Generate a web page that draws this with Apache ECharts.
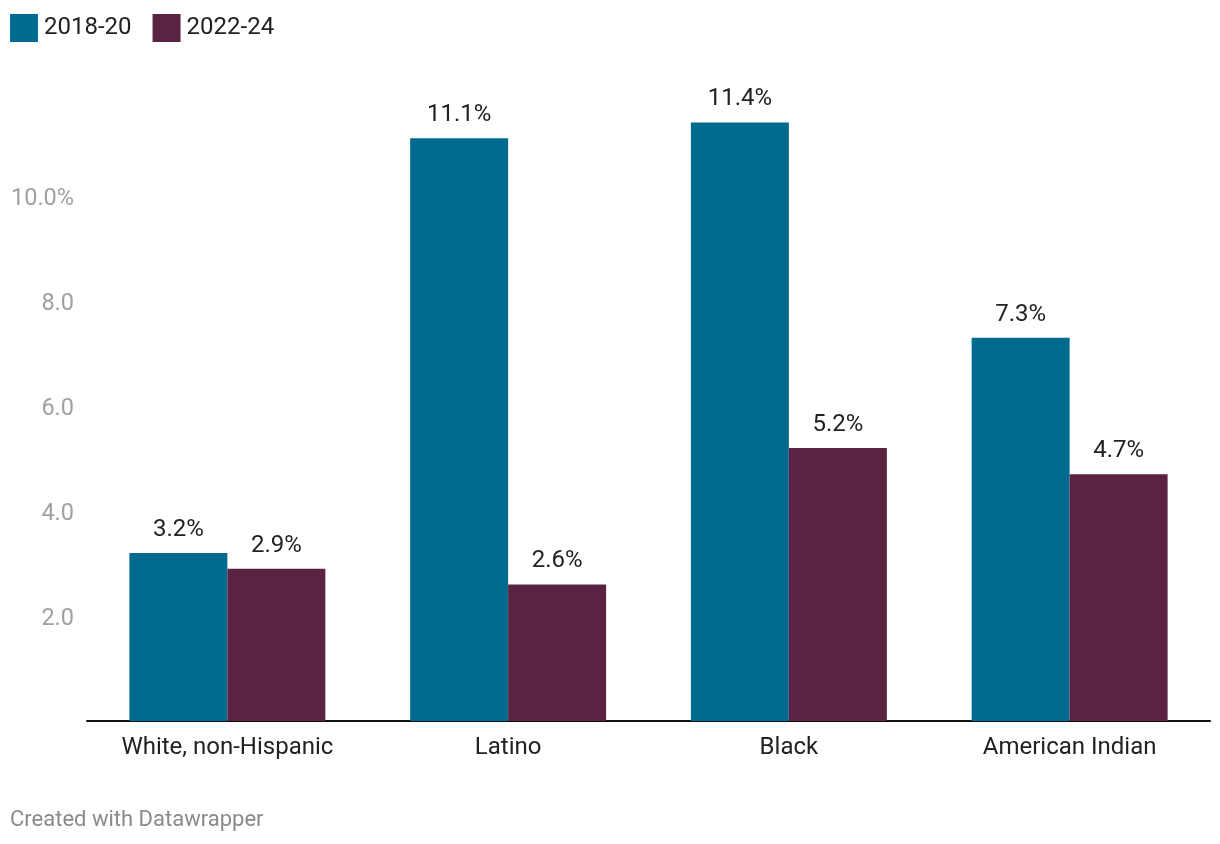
<!DOCTYPE html>
<html><head><meta charset="utf-8">
<script src="https://cdn.jsdelivr.net/npm/echarts@6/dist/echarts.min.js"></script>
<style>html,body{margin:0;padding:0;background:#fff}#c{width:1220px;height:844px}</style>
</head><body><div id="c"></div>
<script>
const categories = ['White, non-Hispanic', 'Latino', 'Black', 'American Indian'];
const seriesNames = ['2018-20', '2022-24'];
const values2018 = [3.2, 11.1, 11.4, 7.3];
const values2022 = [2.9, 2.6, 5.2, 4.7];
const yTicks = [2, 4, 6, 8, 10];
const colors = ['#006a8f', '#5a2342'];

const chart = echarts.init(document.getElementById('c'), null, {renderer: 'canvas'});
const font = 'Roboto';
const labelCfg = {
  show: true, position: 'top', distance: 11,
  formatter: p => p.value.toFixed(1) + '%',
  fontFamily: font, fontSize: 24, color: '#222'
};
chart.setOption({
  animation: false,
  textStyle: {fontFamily: font},
  legend: {
    left: 5, top: 9, itemWidth: 28, itemHeight: 28, itemGap: 21,
    icon: 'rect',
    textStyle: {fontFamily: font, fontSize: 24, color: '#222', padding: [0, 0, 0, 1]},
    data: seriesNames
  },
  grid: {left: 87, right: 10, top: 50, bottom: 123, containLabel: false},
  xAxis: {
    type: 'category', data: categories,
    axisLine: {show: true, lineStyle: {color: '#111', width: 2}},
    axisTick: {show: false},
    axisLabel: {fontFamily: font, fontSize: 24, color: '#222', margin: 15}
  },
  yAxis: {
    type: 'value', min: 0, max: 12.78, interval: 2,
    splitLine: {show: false},
    axisLine: {show: false}, axisTick: {show: false},
    axisLabel: {
      fontFamily: font, fontSize: 23.5, color: '#a0a0a0', margin: 13,
      rich: {a: {fontFamily: font, fontSize: 23.5, color: '#a0a0a0', padding: [6, 0, 0, 0]}},
      formatter: v => yTicks.includes(v) ? '{a|' + (v === 10 ? v.toFixed(1) + '%' : v.toFixed(1)) + '}' : ''
    }
  },
  series: [
    {name: seriesNames[0], type: 'bar', data: values2018, barGap: '0%', barCategoryGap: '30.2%',
     itemStyle: {color: colors[0]}, label: labelCfg},
    {name: seriesNames[1], type: 'bar', data: values2022, barGap: '0%', barCategoryGap: '30.2%',
     itemStyle: {color: colors[1]}, label: labelCfg}
  ],
  graphic: [{
    type: 'text', left: 10, top: 809,
    style: {text: 'Created with Datawrapper', fontFamily: font, fontSize: 22, fill: '#8a8a8a'}
  }]
});
</script></body></html>
